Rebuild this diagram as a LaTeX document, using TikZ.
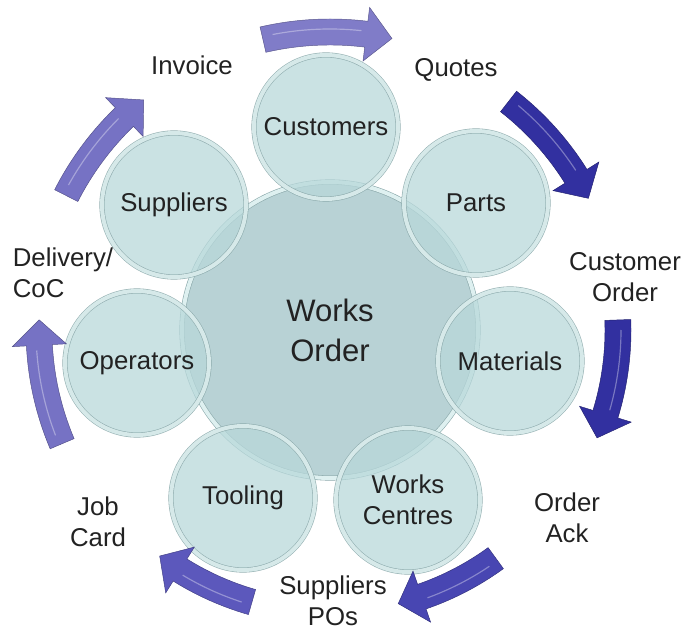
\documentclass[tikz,border=0pt]{standalone}
\usepackage{fontspec}
\setmainfont{Liberation Sans}

\definecolor{hubFill}{RGB}{184,210,213}
\definecolor{ballFill}{RGB}{184,216,218}
\definecolor{ringLight}{RGB}{222,240,240}
\definecolor{ringLine}{RGB}{138,168,170}
\definecolor{textGrey}{RGB}{34,34,34}
\definecolor{arrowA}{RGB}{128,124,200}
\definecolor{arrowB}{RGB}{50,48,160}
\definecolor{arrowC}{RGB}{72,70,178}
\definecolor{arrowD}{RGB}{92,88,188}
\definecolor{arrowE}{RGB}{118,114,196}

\begin{document}
\begin{tikzpicture}[x=0.03cm, y=0.03cm,
    hub/.style={circle, inner sep=0pt, minimum size=2*148*0.03cm,
        draw=ringLine, line width=0.5pt, double=ringLight, double distance=0.12cm,
        fill=hubFill, text=textGrey, align=center,
        font=\fontsize{26.5}{34}\selectfont},
    ball/.style={circle, inner sep=0pt, minimum size=2*72*0.03cm,
        draw=ringLine, line width=0.5pt, double=ringLight, double distance=0.12cm,
        fill=ballFill, fill opacity=0.75, draw opacity=0.9, text opacity=1,
        text=textGrey, align=center, font=\fontsize{22}{26.5}\selectfont},
    flowlabel/.style={text=textGrey, align=center, inner sep=1pt,
        font=\fontsize{22}{26.5}\selectfont}]

% Parameters
\def\bodyW{26}    % Width of an arrow body
\def\headW{54}    % Width of an arrow head
\def\headA{5}     % Angular length of an arrow head

\useasboundingbox (-330,-295) rectangle (354,330);

% Centre circle
\node[hub] (works) at (0,0) {Works\\Order};

% Outer circles
\node[ball] (cust)  at (-4,203)   {Customers};
\node[ball] (parts) at (146,127)  {Parts};
\node[ball] (mats)  at (180,-31)  {Materials};
\node[ball] (wcent) at (78,-170)  {Works\\Centres};
\node[ball] (tool)  at (-87,-168) {Tooling};
\node[ball] (oper)  at (-193,-33) {Operators};
\node[ball] (supp)  at (-156,125) {Suppliers};

% Curved arrows round the cycle (clockwise)
\foreach \s/\e/\r/\c in {103/78/298/arrowA, 52/27/290/arrowB, 2/-22/288/arrowB,
        -54/-76/282/arrowC, -106/-127/283/arrowD, -157/-182/291/arrowE,
        153/129/296/arrowE} {
    \fill[\c, draw=\c!70!black, line width=0.4pt]
        (\s:{\r+\bodyW/2})
        arc[start angle=\s, end angle={\e+\headA}, radius={\r+\bodyW/2}]
        -- ({\e+\headA}:{\r+\headW/2}) -- (\e:\r) -- ({\e+\headA}:{\r-\headW/2})
        -- ({\e+\headA}:{\r-\bodyW/2})
        arc[start angle={\e+\headA}, end angle=\s, radius={\r-\bodyW/2}] -- cycle;
    % Highlight stripe
    \draw[white, opacity=0.35, line width=1pt]
        ({\s-2}:{\r+3}) arc[start angle={\s-2}, end angle={\e+\headA+1}, radius={\r+3}];
}

% Flow labels
\node[flowlabel] (invoice)  at (-138,265) {Invoice};
\node[flowlabel] (quotes)   at (126,260)  {Quotes};
\node[flowlabel] (custord)  at (295,53)   {Customer\\Order};
\node[flowlabel] (ordack)   at (237,-188) {Order\\Ack};
\node[flowlabel] (suppos)   at (3,-271)   {Suppliers\\POs};
\node[flowlabel] (jobcard)  at (-232,-192) {Job\\Card};
\node[flowlabel, align=left] (delivery) at (-267,57) {Delivery/\\CoC};

\end{tikzpicture}
\end{document}
